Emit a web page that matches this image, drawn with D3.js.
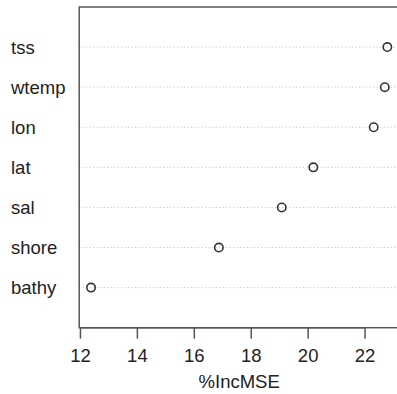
<!DOCTYPE html>
<html>
<head>
<meta charset="utf-8">
<script src="https://cdn.jsdelivr.net/npm/d3@7"></script>
<style>
  html, body { margin: 0; padding: 0; background: #fff; }
  svg { display: block; }
  text { font-family: "Liberation Sans", Arial, sans-serif; fill: #222; }
</style>
</head>
<body>
<div id="chart"></div>
<script>
// Variable importance (%IncMSE), listed top to bottom
const variables = ["tss", "wtemp", "lon", "lat", "sal", "shore", "bathy"];
const incMSE = [22.80, 22.71, 22.32, 20.20, 19.09, 16.88, 12.39];
const xTicks = [12, 14, 16, 18, 20, 22];
const xTitle = "%IncMSE";

const W = 397, H = 394;
const plot = { left: 79.2, right: 399.2, top: 7, bottom: 327.7 };

const svg = d3.select("#chart").append("svg")
  .attr("width", W).attr("height", H);

// x range padded 4% on either side of the data, like a base-graphics dot chart
const lo = d3.min(incMSE), hi = d3.max(incMSE), pad = (hi - lo) * 0.04;
const x = d3.scaleLinear().domain([lo - pad, hi + pad]).range([plot.left, plot.right]);
const y = d3.scalePoint().domain(variables).range([plot.bottom, plot.top]).padding(1)
  .domain(variables.slice().reverse());

// dotted guide lines for each variable
svg.append("g").selectAll("line").data(variables).join("line")
  .attr("x1", plot.left).attr("x2", plot.right)
  .attr("y1", d => y(d)).attr("y2", d => y(d))
  .attr("stroke", "#bdbdbd").attr("stroke-width", 1)
  .attr("stroke-dasharray", "1,2.5");

// variable names, left-aligned in the margin
svg.append("g").selectAll("text").data(variables).join("text")
  .attr("x", 11).attr("y", d => y(d))
  .attr("dy", "0.35em")
  .attr("font-size", 18.5)
  .text(d => d);

// open circle markers
svg.append("g").selectAll("circle").data(variables).join("circle")
  .attr("cx", (d, i) => x(incMSE[i]))
  .attr("cy", d => y(d))
  .attr("r", 4.2)
  .attr("fill", "none")
  .attr("stroke", "#333").attr("stroke-width", 1.6);

// plot frame
svg.append("rect")
  .attr("x", plot.left).attr("y", plot.top)
  .attr("width", plot.right - plot.left).attr("height", plot.bottom - plot.top)
  .attr("fill", "none").attr("stroke", "#555").attr("stroke-width", 1.5);

// bottom axis
const axis = svg.append("g")
  .attr("transform", `translate(0,${plot.bottom})`)
  .call(d3.axisBottom(x).tickValues(xTicks).tickSize(11).tickPadding(10).tickFormat(d3.format("d")));
axis.select(".domain")
  .attr("d", `M${x(xTicks[0])},0H${x(xTicks[xTicks.length - 1])}`)
  .attr("stroke", "#555").attr("stroke-width", 1.5);
axis.selectAll(".tick line").attr("stroke", "#555").attr("stroke-width", 1.5);
axis.selectAll(".tick text")
  .attr("font-size", 18.5)
  .attr("font-family", "\"Liberation Sans\", Arial, sans-serif")
  .attr("fill", "#222");

// axis title
svg.append("text")
  .attr("x", (plot.left + plot.right) / 2)
  .attr("y", 388)
  .attr("text-anchor", "middle")
  .attr("font-size", 18.5)
  .text(xTitle);
</script>
</body>
</html>
